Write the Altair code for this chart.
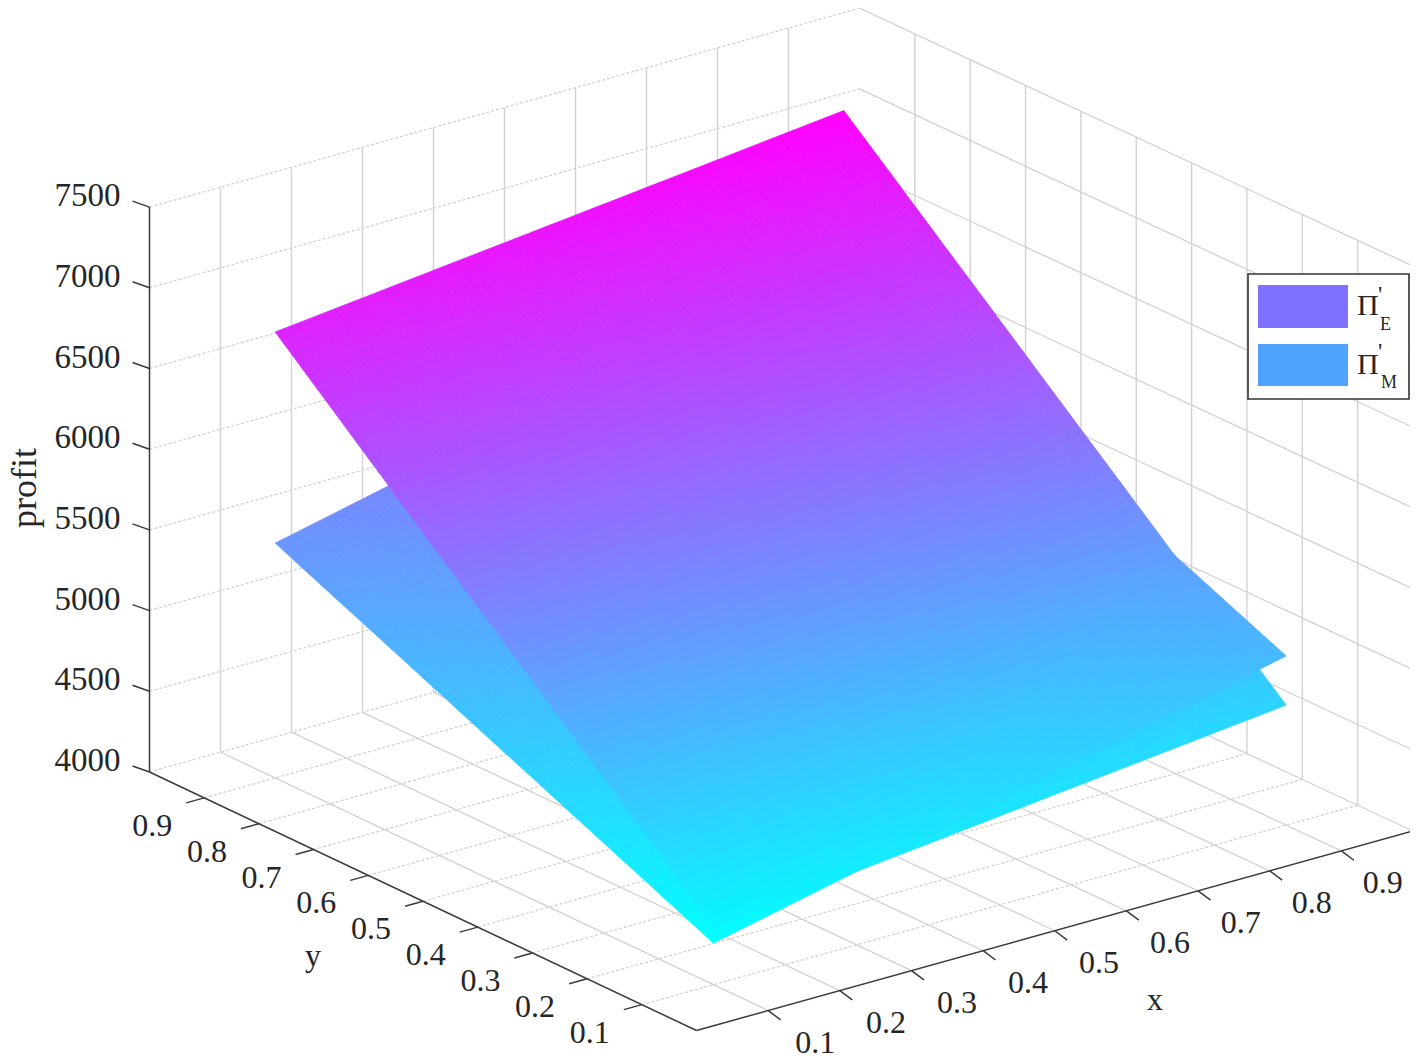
import altair as alt

# ---- values -----------------------------------------------------------------
X_TICKS = [0.1, 0.2, 0.3, 0.4, 0.5, 0.6, 0.7, 0.8, 0.9]
Y_TICKS = [0.1, 0.2, 0.3, 0.4, 0.5, 0.6, 0.7, 0.8, 0.9]
Z_TICKS = [4000, 4500, 5000, 5500, 6000, 6500, 7000, 7500]

# rows: y = 0.1 .. 0.9, columns: x = 0.1 .. 0.9
PROFIT_E = [
    [4358, 4407, 4455, 4503, 4551, 4600, 4648, 4696, 4744],
    [4664, 4712, 4759, 4807, 4855, 4902, 4950, 4997, 5045],
    [4964, 5012, 5059, 5107, 5155, 5203, 5250, 5298, 5345],
    [5264, 5312, 5360, 5407, 5455, 5503, 5551, 5598, 5646],
    [5564, 5612, 5660, 5708, 5756, 5803, 5851, 5899, 5946],
    [5863, 5911, 5960, 6008, 6056, 6104, 6152, 6200, 6247],
    [6163, 6211, 6260, 6308, 6356, 6404, 6452, 6500, 6547],
    [6463, 6511, 6560, 6608, 6656, 6705, 6753, 6801, 6848],
    [6763, 6811, 6859, 6907, 6955, 7003, 7051, 7100, 7148],
]
PROFIT_M = [
    [4258, 4357, 4455, 4554, 4653, 4752, 4850, 4949, 5048],
    [4408, 4507, 4605, 4704, 4803, 4902, 5000, 5099, 5198],
    [4557, 4656, 4755, 4854, 4952, 5051, 5150, 5249, 5347],
    [4707, 4806, 4905, 5003, 5102, 5201, 5300, 5398, 5497],
    [4856, 4955, 5054, 5153, 5252, 5351, 5449, 5548, 5647],
    [5006, 5105, 5204, 5303, 5401, 5500, 5599, 5698, 5796],
    [5156, 5255, 5353, 5452, 5551, 5650, 5749, 5847, 5946],
    [5305, 5404, 5503, 5602, 5701, 5799, 5898, 5997, 6096],
    [5455, 5554, 5653, 5751, 5850, 5949, 6048, 6146, 6245],
]
LEGEND_COLOURS = ["#8070ff", "#50a2ff"]

# ---- 3-D box to page position -----------------------------------------------
FRONT, RIGHT, LEFT, BACK = (696.5, 1030.5), (1413, 831), (149.5, 772), (859.5, 573)
Z_PX = 0.1614
SUB = 8
FONT = "Liberation Serif"
INK = "#262626"
GRID = "#d2d2d2"


def proj(x, y, z=4000):
    a, b = (1 - x) * (1 - y), x * (1 - y)
    c, d = (1 - x) * y, x * y
    px = a * FRONT[0] + b * RIGHT[0] + c * LEFT[0] + d * BACK[0]
    py = a * FRONT[1] + b * RIGHT[1] + c * LEFT[1] + d * BACK[1]
    return px, py - (z - 4000) * Z_PX


def seg(p, q):
    return {"x": p[0], "y": p[1], "x2": q[0], "y2": q[1]}


# ---- surface facets, painted from lowest to highest --------------------------
def lerp(tab, mean, j, i, u, v):
    def f(t):
        return ((1 - u) * (1 - v) * t[j][i] + u * (1 - v) * t[j][i + 1]
                + (1 - u) * v * t[j + 1][i] + u * v * t[j + 1][i + 1])
    return f(tab), f(tab) - f(mean)


MEAN = [[(a + b) / 2 for a, b in zip(r1, r2)] for r1, r2 in zip(PROFIT_E, PROFIT_M)]
facets = []
for name, tab in (("E", PROFIT_E), ("M", PROFIT_M)):
    for j in range(8):
        for i in range(8):
            for sv in range(SUB):
                for su in range(SUB):
                    ring, zs, hs = [], [], []
                    for du, dv in ((0, 0), (1, 0), (1, 1), (0, 1)):
                        u, v = (su + du) / SUB, (sv + dv) / SUB
                        z, h = lerp(tab, MEAN, j, i, u, v)
                        px, py = proj(X_TICKS[i] + u * 0.1, Y_TICKS[j] + v * 0.1, z)
                        ring.append([round(px, 2), round(py, 2)])
                        zs.append(z)
                        hs.append(h)
                    ring.append(ring[0])
                    facets.append((sum(hs) / 4, {
                        "type": "Feature",
                        "geometry": {"type": "Polygon", "coordinates": [ring]},
                        "properties": {"z": round(sum(zs) / 4, 1)},
                    }))
facets.sort(key=lambda t: t[0])
features = [f for _, f in facets]

# ---- grid, axes, labels -------------------------------------------------------
solid, dashed, vertical = [], [], []
for t in X_TICKS:
    solid.append(seg(proj(t, 0), proj(t, 1)))
    vertical.append(seg(proj(t, 1), proj(t, 1, 7500)))
for t in Y_TICKS:
    dashed.append(seg(proj(0, t), proj(1, t)))
    vertical.append(seg(proj(1, t), proj(1, t, 7500)))
for z in Z_TICKS:
    dashed.append(seg(proj(0, 1, z), proj(1, 1, z)))
    solid.append(seg(proj(1, 1, z), proj(1, 0, z)))

axes = [seg(proj(0, 1), proj(0, 1, 7500)), seg(proj(0, 1), proj(0, 0)), seg(proj(0, 0), proj(1, 0))]
labels = []
for t in X_TICKS:
    p = proj(t, 0)
    axes.append(seg(p, (p[0] + 12.5, p[1] + 9.3)))
    labels.append({"x": p[0] + 47 - (t - 0.1) * 7, "y": p[1] + 42, "t": f"{t:.1f}"})
for t in Y_TICKS:
    p = proj(0, t)
    axes.append(seg(p, (p[0] - 18, p[1] + 5)))
    labels.append({"x": p[0] - 52, "y": p[1] + 38, "t": f"{t:.1f}"})
zlabels = []
for z in Z_TICKS:
    p = proj(0, 1, z)
    axes.append(seg(p, (p[0] - 17, p[1] - 6)))
    zlabels.append({"x": p[0] - 29, "y": p[1] - 1, "t": str(z)})
labels += [{"x": 1155, "y": 1010, "t": "x"}, {"x": 313, "y": 966, "t": "y"}]

X_SCALE = alt.Scale(domain=[8, 1410], nice=False, zero=False)
Y_SCALE = alt.Scale(domain=[1054, 8], nice=False, zero=False)
XE = alt.X("x:Q", scale=X_SCALE, axis=None)
YE = alt.Y("y:Q", scale=Y_SCALE, axis=None)


def rules(rows, **kw):
    return alt.Chart(alt.Data(values=rows)).mark_rule(**kw).encode(
        x=XE, y=YE, x2="x2:Q", y2="y2:Q")


def texts(rows, **kw):
    return alt.Chart(alt.Data(values=rows)).mark_text(font=FONT, color=INK, **kw).encode(
        x=XE, y=YE, text="t:N")


Z_COLOUR = alt.Scale(domain=[4258, 7148], range=["#00ffff", "#ff00ff"], interpolate="rgb")
surface = alt.Chart(alt.InlineData(
    values={"type": "FeatureCollection", "features": features},
    format=alt.DataFormat(property="features", type="json"),
)).mark_geoshape(strokeWidth=0.8).encode(
    fill=alt.Fill(field="properties.z", type="quantitative", scale=Z_COLOUR, legend=None),
    stroke=alt.Stroke(field="properties.z", type="quantitative", scale=Z_COLOUR, legend=None),
).project(type="identity", scale=1, translate=[-8, -8])

legend_box = alt.Chart(alt.Data(values=[{"x": 1248, "y": 274, "x2": 1409, "y2": 399}])).mark_rect(
    fill="white", stroke="#333333", strokeWidth=1.6).encode(x=XE, y=YE, x2="x2:Q", y2="y2:Q")
swatches = alt.Chart(alt.Data(values=[
    {"x": 1258, "y": 285, "x2": 1348, "y2": 328, "c": LEGEND_COLOURS[0]},
    {"x": 1258, "y": 344, "x2": 1348, "y2": 386, "c": LEGEND_COLOURS[1]},
])).mark_rect().encode(x=XE, y=YE, x2="x2:Q", y2="y2:Q", fill=alt.Fill("c:N", scale=None))

chart = alt.layer(
    rules(vertical, color=GRID, strokeWidth=1.4),
    rules(solid, color=GRID, strokeWidth=1.3),
    rules(dashed, color=GRID, strokeWidth=1.3, strokeDash=[3, 2]),
    surface,
    rules(axes, color="#3a3a3a", strokeWidth=1.5),
    texts(labels, fontSize=32, align="center", baseline="alphabetic"),
    texts(zlabels, fontSize=33, align="right", baseline="alphabetic"),
    texts([{"x": 36, "y": 488, "t": "profit"}], fontSize=36, angle=270, align="center", baseline="alphabetic"),
    legend_box,
    swatches,
    texts([{"x": 1357, "y": 315, "t": "Π"}, {"x": 1357, "y": 374, "t": "Π"}],
          fontSize=30, align="left", baseline="alphabetic"),
    texts([{"x": 1378, "y": 302, "t": "'"}, {"x": 1378, "y": 359, "t": "'"}],
          fontSize=24, align="left", baseline="alphabetic"),
    texts([{"x": 1380, "y": 330, "t": "E"}, {"x": 1381, "y": 388, "t": "M"}],
          fontSize=18, align="left", baseline="alphabetic"),
).properties(
    width=1402, height=1046, padding=0, background="white",
    autosize=alt.AutoSizeParams(type="none"),
).configure_view(stroke=None)

chart.save("out.html", embed_options={"renderer": "svg", "actions": False})
